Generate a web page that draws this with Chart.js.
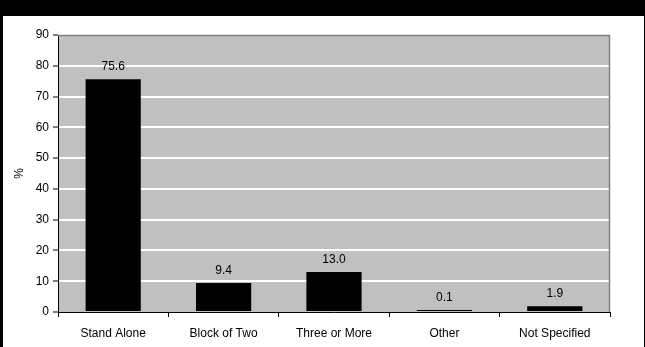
<!DOCTYPE html>
<html>
<head>
<meta charset="utf-8">
<script src="https://cdn.jsdelivr.net/npm/chart.js@4.4.1/dist/chart.umd.min.js"></script>
<style>
  html, body { margin: 0; padding: 0; background: #000; width: 645px; height: 347px; overflow: hidden; }
  #frame { position: absolute; left: 3px; top: 16px; width: 641px; height: 331px; background: #fff; }
  canvas { display: block; }
</style>
</head>
<body>
<div id="frame"><canvas id="chart" width="641" height="331"></canvas></div>
<script>
// Dwelling position categories and their shares (%)
const categories = ['Stand Alone', 'Block of Two', 'Three or More', 'Other', 'Not Specified'];
const shares = [75.6, 9.4, 13.0, 0.1, 1.9];
const yTickValues = [0, 10, 20, 30, 40, 50, 60, 70, 80, 90];

const FONT = "'Liberation Sans', Arial, sans-serif";

// Grey plot background plus the thin grey top/right frame
const plotFrame = {
  id: 'plotFrame',
  beforeDraw(chart) {
    const { ctx, chartArea: a } = chart;
    ctx.save();
    ctx.fillStyle = '#C0C0C0';
    ctx.fillRect(a.left, a.top, a.right - a.left, a.bottom - a.top);
    ctx.restore();
  },
  beforeDatasetsDraw(chart) {
    const { ctx, chartArea: a } = chart;
    ctx.save();
    ctx.strokeStyle = '#808080';
    ctx.lineWidth = 1.5;
    ctx.beginPath();
    ctx.moveTo(a.left, a.top + 0.5);
    ctx.lineTo(a.right - 0.5, a.top + 0.5);
    ctx.lineTo(a.right - 0.5, a.bottom);
    ctx.stroke();
    ctx.restore();
  }
};

// Value labels above each bar
const valueLabels = {
  id: 'valueLabels',
  afterDatasetsDraw(chart) {
    const { ctx } = chart;
    const meta = chart.getDatasetMeta(0);
    ctx.save();
    ctx.fillStyle = '#000';
    ctx.font = '12px ' + FONT;
    ctx.textAlign = 'center';
    ctx.textBaseline = 'alphabetic';
    meta.data.forEach((bar, i) => {
      const v = chart.data.datasets[0].data[i];
      ctx.fillText(v.toFixed(1), bar.x, bar.y - 9);
    });
    ctx.restore();
  }
};

new Chart(document.getElementById('chart'), {
  type: 'bar',
  data: {
    labels: categories,
    datasets: [{
      data: shares,
      backgroundColor: '#000',
      borderWidth: 0,
      minBarLength: 2,
      barPercentage: 0.5,
      categoryPercentage: 1.0
    }]
  },
  options: {
    responsive: false,
    animation: false,
    layout: { padding: { left: 0, top: 19, right: 34, bottom: 0 } },
    plugins: { legend: { display: false }, tooltip: { enabled: false } },
    scales: {
      x: {
        afterFit(scale) { scale.height = 35; },
        grid: {
          offset: true,
          drawOnChartArea: false,
          drawTicks: true,
          tickLength: 5,
          tickColor: '#000',
          tickWidth: 1
        },
        border: { display: true, color: '#000', width: 1 },
        ticks: { color: '#000', font: { family: FONT, size: 12 }, padding: 9, maxRotation: 0 }
      },
      y: {
        min: 0,
        max: 90,
        afterFit(scale) { scale.width = 55; },
        afterBuildTicks(scale) { scale.ticks = yTickValues.map(v => ({ value: v })); },
        grid: {
          color: (c) => (c.tick && (c.tick.value === 0 || c.tick.value === 90)) ? 'rgba(0,0,0,0)' : '#FFFFFF',
          lineWidth: 2,
          drawTicks: true,
          tickLength: 5,
          tickColor: '#000',
          tickWidth: 1
        },
        border: { display: true, color: '#000', width: 1 },
        ticks: { color: '#000', font: { family: FONT, size: 12 }, padding: 4 },
        title: { display: true, text: '%', color: '#000', font: { family: FONT, size: 12 }, padding: { top: 9, bottom: 0 } }
      }
    }
  },
  plugins: [plotFrame, valueLabels]
});
</script>
</body>
</html>
